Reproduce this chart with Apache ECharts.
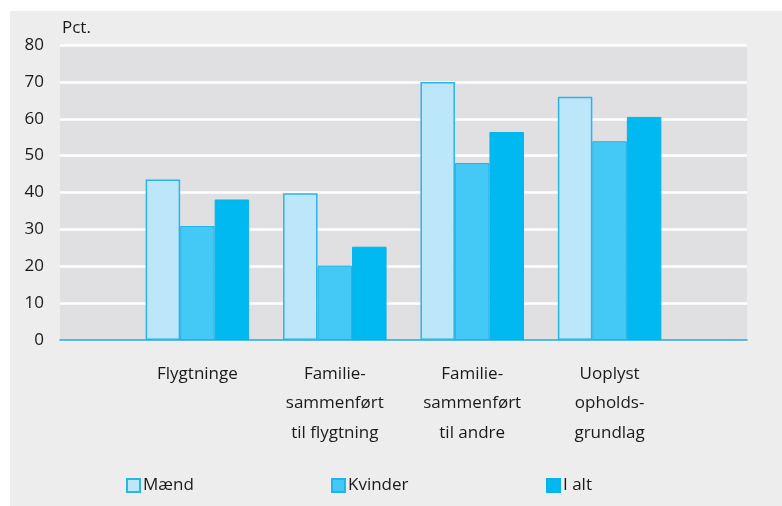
<!DOCTYPE html>
<html>
<head>
<meta charset="utf-8">
<script src="https://cdn.jsdelivr.net/npm/echarts@6/dist/echarts.min.js"></script>
<style>
  html, body { margin: 0; padding: 0; background: #fff; }
  #chart {
    position: absolute;
    left: 10px;
    top: 11px;
    width: 772px;
    height: 495px;
    background: #ecedec;
  }
</style>
</head>
<body>
<div id="chart"></div>
<script>
// categories, with an empty slot at each end
const categories = [
  "",
  "Flygtninge",
  "Familie-\nsammenført\ntil flygtning",
  "Familie-\nsammenført\ntil andre",
  "Uoplyst\nopholds-\ngrundlag",
  ""
];
const maend = [null, 43.5, 39.8, 70.0, 66.0, null];
const kvinder = [null, 30.9, 20.2, 48.0, 53.9, null];
const iAlt = [null, 38.1, 25.3, 56.4, 60.5, null];
const yTicks = { min: 0, max: 80, interval: 10 };

const font = "'Open Sans', 'Noto Sans', sans-serif";
const textColor = "#1a1a1a";
const chart = echarts.init(document.getElementById("chart"));

const legendBase = {
  top: 461,
  icon: "rect",
  itemWidth: 13,
  itemHeight: 13,
  itemGap: 0,
  textStyle: { color: textColor, fontSize: 17, fontFamily: font, padding: [0, 0, 0, -2] }
};

let option = {
  animation: false,
  grid: {
    left: 50,
    right: 35,
    top: 34,
    height: 295,
    show: true,
    backgroundColor: "#e0e0e2",
    borderWidth: 0
  },
  legend: [
    Object.assign({ left: 111, data: ["Mænd"] }, legendBase),
    Object.assign({ left: 316, data: ["Kvinder"] }, legendBase),
    Object.assign({ left: 531, data: ["I alt"] }, legendBase)
  ],
  xAxis: {
    type: "category",
    boundaryGap: false,
    data: categories,
    axisLine: { lineStyle: { color: "#14a7df", width: 1.5 } },
    axisTick: { show: false },
    axisLabel: {
      interval: 0,
      margin: 19,
      color: textColor,
      fontSize: 17,
      fontFamily: font,
      lineHeight: 29.5,
      align: "center"
    }
  },
  yAxis: {
    type: "value",
    min: yTicks.min,
    max: yTicks.max,
    interval: yTicks.interval,
    name: "Pct.",
    nameLocation: "end",
    nameGap: 8,
    nameTextStyle: { color: textColor, fontSize: 17, fontFamily: font, align: "left", padding: [0, 0, 0, 2] },
    axisLine: { show: false },
    axisTick: { show: false },
    axisLabel: { color: textColor, fontSize: 17, fontFamily: font, margin: 16 },
    splitLine: { lineStyle: { color: "#ffffff", width: 2.5 } }
  },
  series: [
    {
      name: "Mænd",
      type: "bar",
      barWidth: 34.5,
      barGap: "0%",
      itemStyle: { color: "#bce6f9", borderColor: "#2ab4e8", borderWidth: 1.5 },
      data: maend
    },
    {
      name: "Kvinder",
      type: "bar",
      barWidth: 34.5,
      barGap: "0%",
      itemStyle: { color: "#44c8f5", borderColor: "#22b3e8", borderWidth: 1 },
      data: kvinder
    },
    {
      name: "I alt",
      type: "bar",
      barWidth: 34.5,
      barGap: "0%",
      itemStyle: { color: "#00b9f0", borderColor: "#08b2ea", borderWidth: 1 },
      data: iAlt
    }
  ]
};

chart.setOption(option);
</script>
</body>
</html>
